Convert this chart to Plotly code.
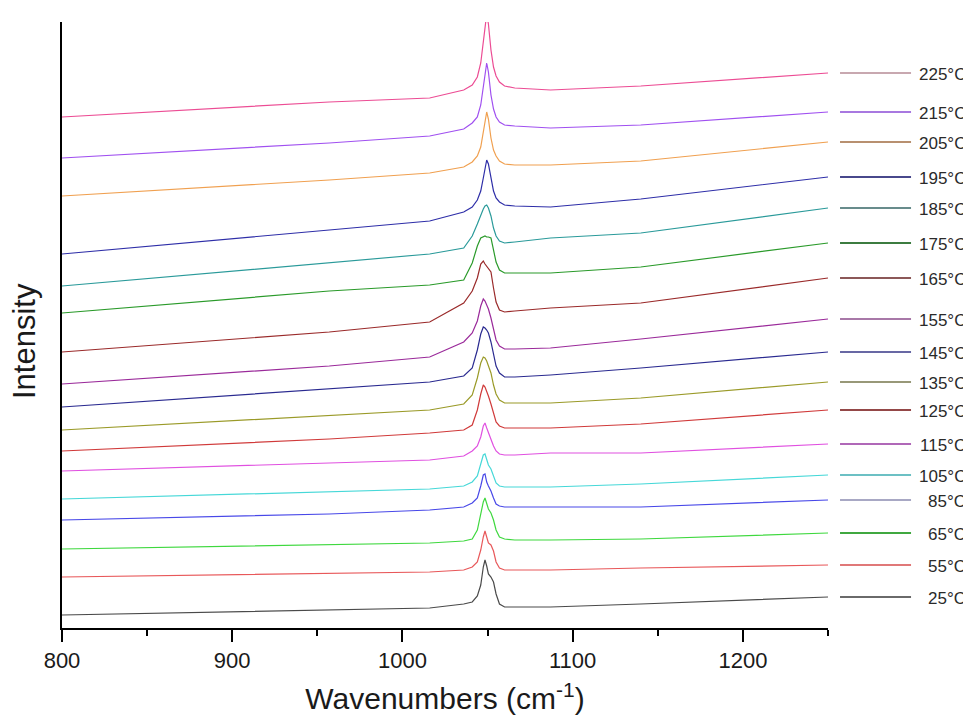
import plotly.graph_objects as go

# Wavenumber sample positions (cm-1)
wavenumbers = [800, 957, 1016, 1036, 1041, 1044, 1046, 1047.5, 1048.5, 1049.5,
               1050.5, 1052, 1053.5, 1055, 1057, 1060, 1066, 1087, 1140, 1250]

temps = ["25°C", "55°C", "65°C", "85°C", "105°C", "115°C", "125°C", "135°C", "145°C",
         "155°C", "165°C", "175°C", "185°C", "195°C", "205°C", "215°C", "225°C"]

# Offset (stacked) intensities, arbitrary units, one list per temperature
i25 = [13, 18, 20, 24, 26, 32, 43, 61, 68, 62, 54, 51, 46, 34, 24, 21, 21, 21, 24, 31]
i55 = [51, 55, 56, 58, 61, 66, 78, 91, 97, 91, 85, 83, 77, 66, 60, 58, 58, 58, 60, 63]
i65 = [79, 83, 85, 87, 89, 98, 113, 126, 130, 125, 119, 115, 108, 98, 91, 89, 88, 88, 89, 95]
i85 = [108, 114, 118, 121, 125, 130, 142, 153, 154, 146, 142, 137, 130, 124, 122, 121, 121, 121, 121, 128]
i105 = [129, 136, 139, 142, 146, 152, 164, 173, 174, 168, 163, 159, 151, 145, 142, 141, 141, 141, 144, 153]
i115 = [157, 165, 168, 172, 177, 182, 191, 202, 205, 200, 195, 188, 182, 177, 174, 173, 173, 175, 175, 184]
i125 = [177, 189, 195, 198, 203, 218, 234, 243, 241, 237, 232, 224, 214, 206, 202, 200, 200, 200, 204, 218]
i135 = [198, 212, 218, 224, 233, 250, 265, 271, 270, 267, 262, 255, 243, 234, 228, 225, 225, 225, 230, 246]
i145 = [221, 239, 246, 252, 260, 278, 294, 301, 300, 298, 295, 286, 273, 262, 255, 251, 251, 253, 260, 276]
i155 = [244, 262, 271, 286, 295, 307, 322, 329, 327, 323, 319, 310, 298, 288, 282, 279, 279, 280, 289, 309]
i165 = [276, 296, 306, 325, 337, 350, 364, 367, 364, 362, 360, 356, 340, 326, 318, 316, 317, 320, 325, 350]
i175 = [315, 337, 343, 348, 365, 382, 390, 391, 392, 391, 391, 390, 378, 366, 358, 355, 355, 355, 361, 385]
i185 = [342, 365, 374, 380, 392, 404, 413, 419, 422, 423, 420, 412, 400, 392, 387, 385, 386, 390, 395, 420]
i195 = [374, 398, 407, 416, 421, 428, 437, 450, 461, 468, 464, 449, 437, 430, 426, 423, 422, 421, 429, 451]
i205 = [432, 448, 455, 461, 466, 472, 481, 496, 509, 516, 509, 490, 478, 472, 467, 464, 463, 463, 467, 486]
i215 = [470, 485, 492, 499, 505, 511, 523, 541, 556, 565, 556, 533, 519, 511, 506, 503, 502, 500, 503, 516]
i225 = [511, 526, 530, 538, 543, 551, 565, 586, 604, 614, 604, 578, 561, 552, 546, 542, 540, 538, 542, 555]

series = [i25, i55, i65, i85, i105, i115, i125, i135, i145,
          i155, i165, i175, i185, i195, i205, i215, i225]

line_colors = ["#4a4a4a", "#e8585a", "#3fd83f", "#4848e8", "#46d8d8", "#e050e0", "#d03a3a",
               "#9a9a28", "#2a2a90", "#9a2a9a", "#9a2a2a", "#2a9a2a", "#2a9a9a", "#2e2ea8",
               "#f0a050", "#a050f0", "#ec4c94"]
legend_colors = ["#6a6a6a", "#e07878", "#40a840", "#a8a8c4", "#6cc0c4", "#b068b8", "#944848",
                 "#989878", "#6868a4", "#a878a8", "#8c5858", "#3c7c40", "#688c8c", "#48488c",
                 "#b89070", "#a878e0", "#c8a8b0"]

fig = go.Figure()
for name, ys, c in zip(temps, series, line_colors):
    fig.add_trace(go.Scatter(x=wavenumbers, y=ys, mode="lines", name=name,
                             line=dict(color=c, width=1.2), showlegend=False))

# Hand-placed legend beside the curve ends
for name, ys, lc in zip(temps, series, legend_colors):
    fig.add_shape(type="line", xref="paper", yref="y", x0=1.0157, x1=1.1084,
                  y0=ys[-1], y1=ys[-1], line=dict(color=lc, width=2))
    fig.add_annotation(xref="paper", yref="y", x=1.1828, y=ys[-1] - 1, text=name,
                       showarrow=False, xanchor="right", yanchor="middle",
                       font=dict(size=17, color="#2a2a2a", family="Liberation Sans, Arial"))

# Y-axis title placed as in the reference (slightly below the axis middle)
fig.add_annotation(xref="paper", yref="paper", x=-0.048, y=0.474, text="Intensity",
                   textangle=-90, showarrow=False, xanchor="center", yanchor="middle",
                   font=dict(size=31, color="#1a1a1a", family="Liberation Sans, Arial"))

fig.update_layout(
    width=963, height=716,
    margin=dict(l=54, r=143, t=14, b=96),
    paper_bgcolor="white", plot_bgcolor="white",
    font=dict(family="Liberation Sans, Arial", color="#1a1a1a"),
    xaxis=dict(range=[800, 1250], dtick=100, tick0=800, showgrid=False, zeroline=False,
               showline=True, linecolor="black", linewidth=2,
               ticks="outside", ticklen=12, tickwidth=2, tickcolor="black",
               tickfont=dict(size=22, color="#1a1a1a"),
               minor=dict(dtick=50, tick0=800, ticks="outside", ticklen=6, tickwidth=2,
                          tickcolor="black", showgrid=False),
               title=dict(text="Wavenumbers (cm<sup>-1</sup>)", font=dict(size=30, color="#1a1a1a"),
                          standoff=16)),
    yaxis=dict(range=[0, 606], showgrid=False, zeroline=False, showticklabels=False,
               showline=True, linecolor="black", linewidth=2, ticks=""),
)

fig.write_html("out.html")
